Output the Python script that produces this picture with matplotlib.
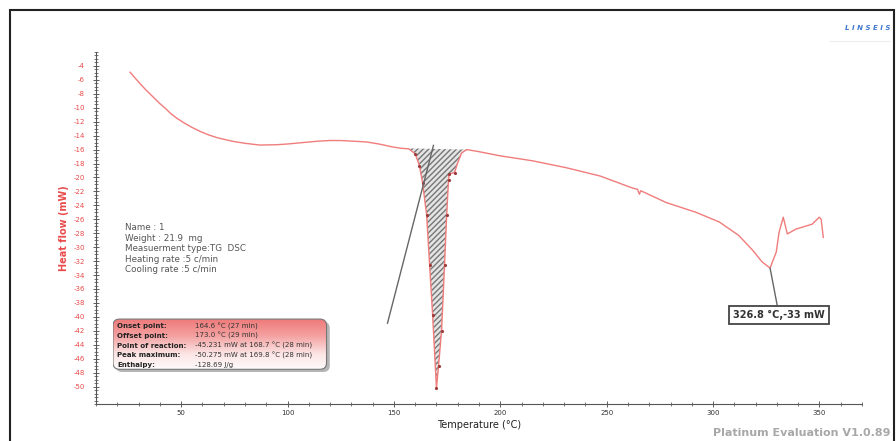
import numpy as np
import matplotlib
matplotlib.use("Agg")
import matplotlib.pyplot as plt
from matplotlib.patches import FancyBboxPatch, Rectangle
from matplotlib.colors import LinearSegmentedColormap
from matplotlib.ticker import MultipleLocator

plt.rcParams["axes.unicode_minus"] = False

# DSC curve: temperature (C) and heat flow (mW)
temperature = [26, 28, 30, 33, 35, 38, 40, 43, 45, 48, 51, 55, 59, 63, 67, 74,
               80, 87, 95, 100, 107, 114, 120, 125, 131, 137, 143, 149, 153,
               157, 160, 162, 163.5, 165.4, 166.8, 168.2, 170, 171, 172.4,
               173.8, 174.8, 175.7, 176, 178.5, 180, 181.8, 184.2, 190, 200,
               215, 231, 247, 262, 264.5, 265.4, 266, 278, 292, 303, 312,
               318.5, 323, 326.8, 329.7, 331, 333, 334.9, 339, 346.6, 349.9,
               350.8, 351.8]
heat_flow = [-4.9, -5.6, -6.3, -7.3, -7.9, -8.8, -9.4, -10.2, -10.8, -11.5,
             -12.1, -12.8, -13.4, -13.9, -14.3, -14.8, -15.1, -15.35, -15.3,
             -15.2, -15.0, -14.8, -14.7, -14.7, -14.8, -14.9, -15.2, -15.6,
             -15.8, -15.9, -16.6, -18.3, -20.8, -25.4, -32.6, -39.7, -50.2,
             -47.0, -42.0, -32.6, -25.4, -20.3, -19.5, -19.3, -17.9, -16.5,
             -16.0, -16.3, -16.9, -17.6, -18.6, -19.8, -21.5, -21.7, -22.4,
             -21.9, -23.6, -25.0, -26.4, -28.3, -30.4, -32.1, -33.0, -30.7,
             -27.9, -25.7, -28.1, -27.4, -26.7, -25.7, -26.0, -28.6]

peak_range = (153, 184.2)
tangent_x = [147, 168.6]
tangent_y = [-40.9, -15.4]
marker_point = (326.8, -33.0)

info_lines = ["Name : 1", "Weight : 21.9  mg", "Measuerment type:TG  DSC",
              "Heating rate :5 c/min", "Cooling rate :5 c/min"]
result_labels = ["Onset point:", "Offset point:", "Point of reaction:",
                 "Peak maximum:", "Enthalpy:"]
result_values = ["164.6 \u00b0C (27 min)", "173.0 \u00b0C (29 min)",
                 "-45.231 mW at 168.7 \u00b0C (28 min)",
                 "-50.275 mW at 169.8 \u00b0C (28 min)", "-128.69 J/g"]

curve_red = "#f07c7c"
W, H = 896, 441

fig = plt.figure(figsize=(W / 100, H / 100), dpi=100)
ax = fig.add_axes([96 / W, 1 - 404 / H, (862 - 96) / W, (404 - 52) / H])

t = np.array(temperature)
q = np.array(heat_flow)
ax.plot(t, q, color=curve_red, lw=1.0, zorder=3)

# hatched peak area (polygon closes with the straight baseline)
sel = (t >= peak_range[0]) & (t <= peak_range[1])
ax.fill(t[sel], q[sel], facecolor="#e4e4e4", edgecolor="#777777",
        hatch="//////", lw=0, zorder=2)
ax.plot(t[sel][2:-3], q[sel][2:-3], ls="none", marker=".", ms=2.5,
        color="#9c3a3a", zorder=4)
ax.plot(tangent_x, tangent_y, color="#666666", lw=1.0, zorder=4)

# peak annotation
ax.annotate("326.8 \u00b0C,-33 mW", xy=marker_point, xytext=(331, -39.7),
            ha="center", va="center", fontsize=7, color="#333333",
            fontweight="bold",
            bbox=dict(boxstyle="square,pad=0.4", fc="white", ec="#444444",
                      lw=1.3),
            arrowprops=dict(arrowstyle="-", color="#666666", lw=1.0,
                            shrinkA=0, shrinkB=0))

ax.set_xlim(10, 370)
ax.set_ylim(-52.5, -2)
ax.xaxis.set_major_locator(MultipleLocator(50))
ax.xaxis.set_minor_locator(MultipleLocator(10))
ax.yaxis.set_major_locator(MultipleLocator(2))
ax.yaxis.set_minor_locator(MultipleLocator(0.5))
ax.set_xticks([50, 100, 150, 200, 250, 300, 350])
ax.set_yticks(np.arange(-50, -3, 2))
ax.tick_params(axis="both", which="major", direction="inout", length=4,
               width=0.6, color="#444444", labelsize=5)
ax.tick_params(axis="both", which="minor", direction="inout", length=2.5,
               width=0.5, color="#444444")
ax.tick_params(axis="y", labelcolor="#e84a4a", pad=6)
ax.tick_params(axis="x", labelcolor="#333333", pad=2)
for s in ["top", "right"]:
    ax.spines[s].set_visible(False)
for s in ["left", "bottom"]:
    ax.spines[s].set_color("#555555")
    ax.spines[s].set_linewidth(0.8)
ax.set_xlabel("Temperature (\u00b0C)", fontsize=7, color="#222222", labelpad=3)
ax.set_ylabel("Heat flow (mW)", fontsize=7, color="#e84a4a",
              fontweight="bold", labelpad=3)

# sample info text
for i, line in enumerate(info_lines):
    fig.text(125 / W, 1 - (228 + 10.5 * i) / H, line, fontsize=6.3,
             color="#555555", va="center")

# results box with red gradient
bx = fig.add_axes([113 / W, 1 - 372 / H, 219 / W, 54 / H])
bx.set_xlim(0, 1)
bx.set_ylim(0, 1)
bx.axis("off")
shadow = FancyBboxPatch((0.012, 0.0), 0.978, 0.93,
                        boxstyle="round,pad=0,rounding_size=0.03",
                        mutation_aspect=4, fc="#b5b5b5", ec="none",
                        transform=bx.transAxes)
bx.add_patch(shadow)
panel = FancyBboxPatch((0.0, 0.05), 0.975, 0.93,
                       boxstyle="round,pad=0,rounding_size=0.03",
                       mutation_aspect=4, fc="none", ec="#777777", lw=0.8,
                       transform=bx.transAxes, zorder=3)
bx.add_patch(panel)
grad_cmap = LinearSegmentedColormap.from_list(
    "redfade", ["#ffffff", "#fce4e4", "#f4a0a0", "#ee7676"])
grad = np.linspace(0, 1, 100).reshape(-1, 1)
img = bx.imshow(grad, cmap=grad_cmap, extent=(0, 1, 0, 1), origin="lower",
                aspect="auto", zorder=2)
img.set_clip_path(panel)
for i, (lab, val) in enumerate(zip(result_labels, result_values)):
    y = 0.85 - i * 0.18
    bx.text(0.02, y, lab, fontsize=5, fontweight="bold", color="#222222",
            va="center", zorder=4)
    bx.text(0.375, y, val, fontsize=5, color="#333333", va="center", zorder=4)

# branding and frame
fig.text(890 / W, 1 - 28 / H, "L I N S E I S", fontsize=5, color="#3f78d0",
         style="italic", fontweight="bold", ha="right", va="center")
fig.add_artist(plt.Line2D([830 / W, 890 / W], [1 - 41 / H, 1 - 41 / H],
                          color="#eeeeee", lw=0.8))
fig.text(890 / W, 1 - 433 / H, "Platinum Evaluation V1.0.89", fontsize=8,
         color="#a8a8a8", fontweight="bold", ha="right", va="center")
fig.add_artist(Rectangle((10 / W, -0.02), 884 / W, 1 - 10 / H + 0.02,
                         transform=fig.transFigure, fill=False,
                         ec="#222222", lw=1.5))

fig.savefig("out.png", dpi=100)
